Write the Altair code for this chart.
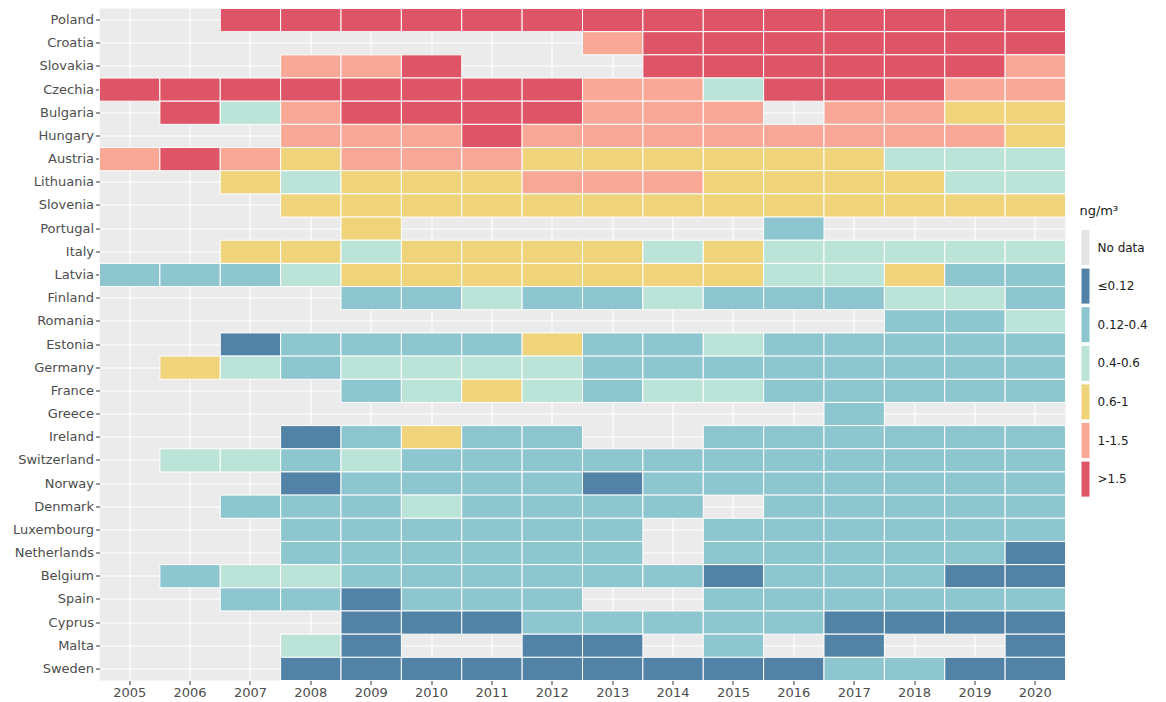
import altair as alt
import pandas as pd

years = list(range(2005, 2021))

countries = ["Poland", "Croatia", "Slovakia", "Czechia", "Bulgaria", "Hungary",
             "Austria", "Lithuania", "Slovenia", "Portugal", "Italy", "Latvia",
             "Finland", "Romania", "Estonia", "Germany", "France", "Greece",
             "Ireland", "Switzerland", "Norway", "Denmark", "Luxembourg",
             "Netherlands", "Belgium", "Spain", "Cyprus", "Malta", "Sweden"]

# class codes per year 2005..2020: N = no data, A <=0.12, B 0.12-0.4, C 0.4-0.6,
# D 0.6-1, E 1-1.5, F >1.5
poland      = "N N F F F F F F F F F F F F F F".split()
croatia     = "N N N N N N N N E F F F F F F F".split()
slovakia    = "N N N E E F N N N F F F F F F E".split()
czechia     = "F F F F F F F F E E C F F F E E".split()
bulgaria    = "N F C E F F F F E E E N E E D D".split()
hungary     = "N N N E E E F E E E E E E E E D".split()
austria     = "E F E D E E E D D D D D D C C C".split()
lithuania   = "N N D C D D D E E E D D D D C C".split()
slovenia    = "N N N D D D D D D D D D D D D D".split()
portugal    = "N N N N D N N N N N N B N N N N".split()
italy       = "N N D D C D D D D C D C C C C C".split()
latvia      = "B B B C D D D D D D D C C D B B".split()
finland     = "N N N N B B C B B C B B B C C B".split()
romania     = "N N N N N N N N N N N N N B B C".split()
estonia     = "N N A B B B B D B B C B B B B B".split()
germany     = "N D C B C C C C B B B B B B B B".split()
france      = "N N N N B C D C B C C B B B B B".split()
greece      = "N N N N N N N N N N N N B N N N".split()
ireland     = "N N N A B D B B N N B B B B B B".split()
switzerland = "N C C B C B B B B B B B B B B B".split()
norway      = "N N N A B B B B A B B B B B B B".split()
denmark     = "N N B B B C B B B B N B B B B B".split()
luxembourg  = "N N N B B B B B B N B B B B B B".split()
netherlands = "N N N B B B B B B N B B B B B A".split()
belgium     = "N B C C B B B B B B A B B B A A".split()
spain       = "N N B B A B B B N N B B B B B B".split()
cyprus      = "N N N N A A A B B B B B A A A A".split()
malta       = "N N N C A N N A A N B N A N N A".split()
sweden      = "N N N A A A A A A A A A B B A A".split()

rows = [poland, croatia, slovakia, czechia, bulgaria, hungary, austria,
        lithuania, slovenia, portugal, italy, latvia, finland, romania,
        estonia, germany, france, greece, ireland, switzerland, norway,
        denmark, luxembourg, netherlands, belgium, spain, cyprus, malta, sweden]

code_labels = {"N": "No data", "A": "≤0.12", "B": "0.12-0.4", "C": "0.4-0.6",
               "D": "0.6-1", "E": "1-1.5", "F": ">1.5"}
class_order = ["No data", "≤0.12", "0.12-0.4", "0.4-0.6", "0.6-1", "1-1.5", ">1.5"]
class_colors = ["#E4E4E4", "#5282A6", "#8EC6CF", "#BCE3D7", "#EFD47C", "#F9A898", "#DD5566"]

records = []
for c, codes in zip(countries, rows):
    for y, code in zip(years, codes):
        if code != "N":
            records.append({"country": c, "year": str(y), "cls": code_labels[code]})
df = pd.DataFrame(records)

W, H = 966, 672
bar_path = "M-1,-4.375L1,-4.375L1,4.375L-1,4.375Z"

chart = alt.Chart(df).mark_rect(stroke="white", strokeWidth=1).encode(
    x=alt.X("year:O", scale=alt.Scale(domain=[str(y) for y in years], paddingInner=0, paddingOuter=0),
            axis=alt.Axis(title=None, labelAngle=0, grid=True, bandPosition=0.5, zindex=0)),
    y=alt.Y("country:N", scale=alt.Scale(domain=countries, paddingInner=0, paddingOuter=0),
            axis=alt.Axis(title=None, grid=True, bandPosition=0.5, zindex=0)),
    color=alt.Color("cls:N", scale=alt.Scale(domain=class_order, range=class_colors),
                    legend=alt.Legend(title="ng/m³", orient="none", legendX=W + 14, legendY=196,
                                      symbolType=bar_path, symbolSize=64,
                                      symbolStrokeWidth=0, labelOffset=6,
                                      rowPadding=2.6, titlePadding=24,
                                      titleFontSize=13, titleFontWeight="normal",
                                      titleColor="#1A1A1A", labelColor="#1A1A1A",
                                      labelFontSize=12, labelFont="DejaVu Sans",
                                      titleFont="DejaVu Sans")),
).properties(
    width=W, height=H,
    autosize=alt.AutoSizeParams(type="none"),
    padding={"left": 91.5, "top": 0.5, "right": 92, "bottom": 20},
).configure_view(
    fill="#EBEBEB", stroke=None
).configure_axis(
    domain=False, gridColor="white", gridWidth=1.1, gridOpacity=1,
    tickColor="#333333", tickSize=4, tickWidth=1,
    labelColor="#4D4D4D", labelFontSize=13, labelFont="DejaVu Sans", labelPadding=2,
)

chart.save("out.html", embed_options={"renderer": "svg", "actions": False})
